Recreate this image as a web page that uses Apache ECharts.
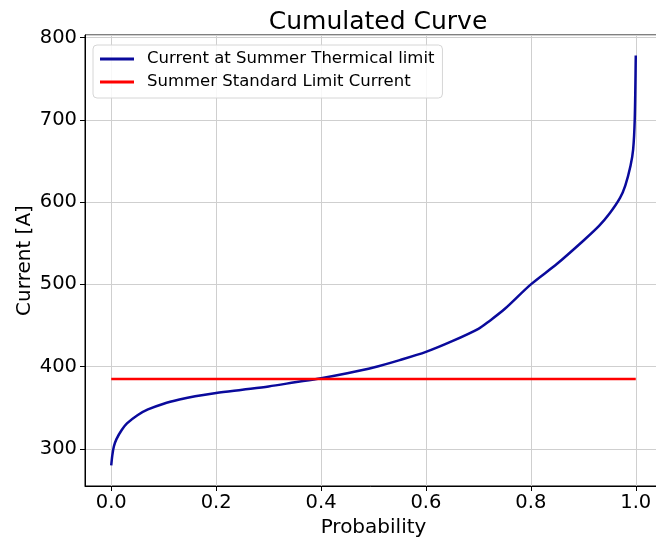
<!DOCTYPE html>
<html><head><meta charset="utf-8">
<script src="https://cdn.jsdelivr.net/npm/echarts@6/dist/echarts.min.js"></script>
<style>html,body{margin:0;padding:0;background:#fff}#c{width:656px;height:543px}</style>
</head><body><div id="c"></div>
<script>
const probability = [0, 0.002, 0.005, 0.01, 0.02, 0.03, 0.05, 0.07, 0.1, 0.13, 0.16, 0.2, 0.25, 0.3, 0.35, 0.4, 0.45, 0.5, 0.55, 0.6, 0.65, 0.7, 0.72, 0.75, 0.8, 0.85, 0.9, 0.93, 0.95, 0.97, 0.98, 0.99, 0.995, 0.998, 1.0];
const thermalCurrent = [280, 292, 303, 312, 323, 331, 341, 348, 355, 360, 364, 368, 372, 376, 381, 386, 392, 399, 408, 418, 431, 446, 455, 470, 500, 525, 553, 571, 586, 605, 620, 644, 664, 700, 778];
const standardLimitX = [0, 1];
const standardLimit = [385, 385];
const seriesNames = ['Current at Summer Thermical limit', 'Summer Standard Limit Current'];

const font = 'DejaVu Sans';
const chart = echarts.init(document.getElementById('c'), null, {renderer: 'canvas'});
chart.setOption({
  animation: false,
  backgroundColor: '#fff',
  title: {text: 'Cumulated Curve', left: 373, top: 5, textAlign: 'center',
    textStyle: {fontFamily: font, fontSize: 25, fontWeight: 'normal', color: '#000'}},
  legend: {
    orient: 'vertical', left: 93, top: 45, padding: [4, 8, 6, 7],
    icon: 'rect', itemWidth: 34, itemHeight: 3, itemGap: 3,
    borderColor: '#d6d6d6', borderWidth: 1, borderRadius: 4, backgroundColor: 'rgba(255,255,255,0.85)',
    textStyle: {fontFamily: font, fontSize: 16.5, lineHeight: 20, color: '#000', padding: [0, 0, 0, 8]},
    data: seriesNames
  },
  grid: {left: 85, width: 577, top: 35, bottom: 57, show: true, borderColor: '#000', borderWidth: 1,
    outerBoundsMode: 'none', containLabel: false},
  xAxis: {
    type: 'value', min: -0.05, max: 1.05, splitNumber: 5,
    name: 'Probability', nameLocation: 'middle', nameGap: 27,
    nameTextStyle: {fontFamily: font, fontSize: 20, color: '#000'},
    axisLine: {show: true, onZero: false, lineStyle: {color: '#000'}},
    axisTick: {show: true, inside: false, length: 5, lineStyle: {color: '#000'}},
    axisLabel: {fontFamily: font, fontSize: 19.5, color: '#000', margin: 7, showMinLabel: false, showMaxLabel: false,
      formatter: v => (Math.abs(v * 5 - Math.round(v * 5)) < 1e-6 ? v.toFixed(1) : '')},
    splitLine: {show: true, lineStyle: {color: '#cfcfcf', width: 1}}
  },
  yAxis: {
    type: 'value', min: 255, max: 803, splitNumber: 5,
    name: 'Current [A]', nameLocation: 'middle', nameGap: 50, nameRotate: 90, nameMoveOverlap: false,
    nameTextStyle: {fontFamily: font, fontSize: 20, color: '#000'},
    axisLine: {show: true, onZero: false, lineStyle: {color: '#000'}},
    axisTick: {show: true, inside: false, length: 5, lineStyle: {color: '#000'}},
    axisLabel: {fontFamily: font, fontSize: 19.5, color: '#000', margin: 8, showMinLabel: false, showMaxLabel: false,
      formatter: v => (v % 100 === 0 ? String(v) : '')},
    splitLine: {show: true, lineStyle: {color: '#cfcfcf', width: 1}}
  },
  series: [
    {name: seriesNames[0], type: 'line', symbol: 'none', smooth: 0.3,
      data: probability.map((p, i) => [p, thermalCurrent[i]]),
      lineStyle: {color: '#0a0a9c', width: 2.5}, itemStyle: {color: '#0a0a9c'}},
    {name: seriesNames[1], type: 'line', symbol: 'none',
      data: standardLimitX.map((p, i) => [p, standardLimit[i]]),
      lineStyle: {color: '#ff0000', width: 2.5}, itemStyle: {color: '#ff0000'}}
  ]
});
</script></body></html>
